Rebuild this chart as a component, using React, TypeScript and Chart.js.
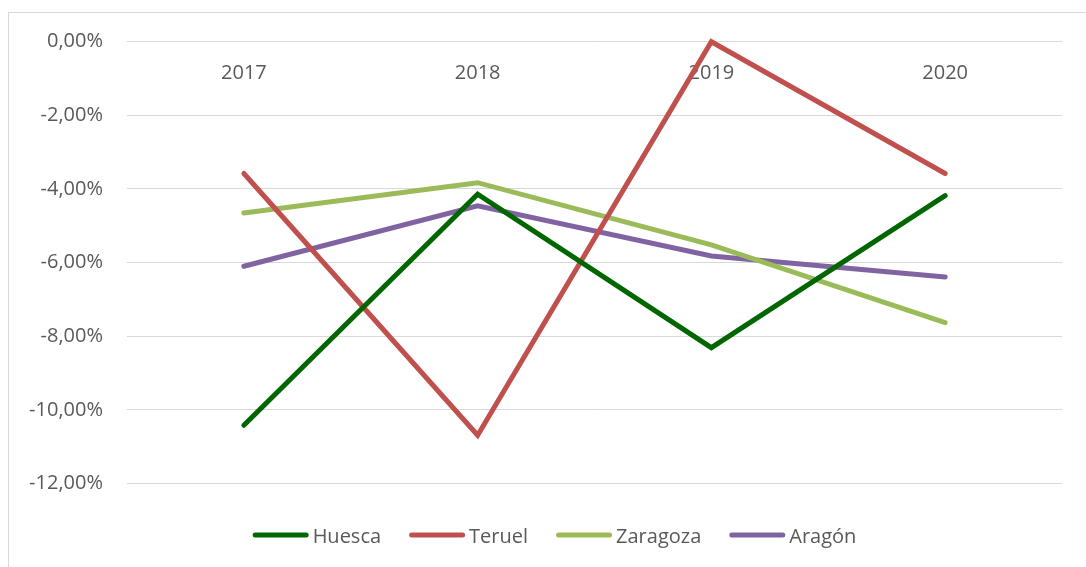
import React, { useEffect, useRef } from "react";
import { Chart, registerables } from "chart.js";

Chart.register(...registerables);

const categories = ["2017", "2018", "2019", "2020"];
const seriesNames = ["Huesca", "Teruel", "Zaragoza", "Aragón"];
const huesca = [-10.42, -4.14, -8.31, -4.18];
const teruel = [-3.58, -10.69, 0, -3.58];
const zaragoza = [-4.65, -3.83, -5.52, -7.63];
const aragon = [-6.1, -4.46, -5.82, -6.39];
const seriesColors = ["#006600", "#C0504D", "#9BBB59", "#8064A2"];
const yTicks = [0, -2, -4, -6, -8, -10, -12];

const FONT = '"Open Sans", "Noto Sans", sans-serif';
const TEXT = "#595959";
const GRID = "#D9D9D9";

const framePlugin = {
  id: "frame",
  beforeDraw(chart: any) {
    const ctx = chart.ctx;
    ctx.save();
    ctx.fillStyle = "#FFFFFF";
    ctx.fillRect(0, 0, chart.width, chart.height);
    ctx.strokeStyle = GRID;
    ctx.lineWidth = 1;
    ctx.strokeRect(8.5, 12.5, chart.width + 20, chart.height + 20);
    ctx.restore();
  },
};

const legendPlugin = {
  id: "excelLegend",
  afterDraw(chart: any) {
    const ctx = chart.ctx;
    ctx.save();
    ctx.font = `20px ${FONT}`;
    const lineW = 56;
    const gap = 4;
    const itemGap = 28;
    const items = chart.data.datasets.map((ds: any) => ({
      label: ds.label,
      color: ds.borderColor,
      w: ctx.measureText(ds.label).width,
    }));
    const total =
      items.reduce((s: number, it: any) => s + lineW + gap + it.w, 0) +
      itemGap * (items.length - 1);
    let x = 554.5 - total / 2;
    const yLine = 535;
    const yBase = 543;
    for (const it of items) {
      ctx.strokeStyle = it.color;
      ctx.lineWidth = 5;
      ctx.lineCap = "round";
      ctx.beginPath();
      ctx.moveTo(x + 2.5, yLine);
      ctx.lineTo(x + lineW - 2.5, yLine);
      ctx.stroke();
      ctx.fillStyle = TEXT;
      ctx.textBaseline = "alphabetic";
      ctx.textAlign = "left";
      ctx.fillText(it.label, x + lineW + gap, yBase);
      x += lineW + gap + it.w + itemGap;
    }
    ctx.restore();
  },
};

export default function App() {
  const ref = useRef<HTMLCanvasElement | null>(null);

  useEffect(() => {
    if (!ref.current) return;
    const data = [huesca, teruel, zaragoza, aragon];
    const chart = new Chart(ref.current, {
      type: "line",
      data: {
        labels: categories,
        datasets: seriesNames.map((name, i) => ({
          label: name,
          data: data[i],
          borderColor: seriesColors[i],
          backgroundColor: seriesColors[i],
          borderWidth: 5,
          borderCapStyle: "round",
          borderJoinStyle: "miter",
          pointRadius: 0,
          pointHoverRadius: 0,
          tension: 0,
          fill: false,
          clip: false,
        })),
      },
      options: {
        animation: false,
        responsive: true,
        maintainAspectRatio: false,
        layout: { padding: { left: 0, top: 41.7, right: 24, bottom: 83.5 } },
        plugins: {
          legend: { display: false },
          tooltip: { enabled: false },
        },
        scales: {
          x: {
            position: { y: 0 } as any,
            offset: true,
            grid: { display: false, drawTicks: false },
            border: { display: false },
            ticks: {
              color: TEXT,
              font: { family: FONT, size: 20 },
              padding: 20,
              maxRotation: 0,
            },
          },
          y: {
            min: -12,
            max: 0,
            afterFit: (scale: any) => {
              scale.width = 127;
            },
            afterBuildTicks: (scale: any) => {
              scale.ticks = yTicks.map((v) => ({ value: v }));
            },
            grid: { color: GRID, lineWidth: 1, drawTicks: false },
            border: { display: false },
            ticks: {
              color: TEXT,
              font: { family: FONT, size: 20 },
              padding: 24,
              callback: (v: any) => Number(v).toFixed(2).replace(".", ",") + "%",
            },
          },
        },
      },
      plugins: [framePlugin, legendPlugin],
    });
    return () => chart.destroy();
  }, []);

  return (
    <div style={{ position: "fixed", left: 0, top: 0, width: 1086, height: 567 }}>
      <canvas ref={ref} />
    </div>
  );
}
